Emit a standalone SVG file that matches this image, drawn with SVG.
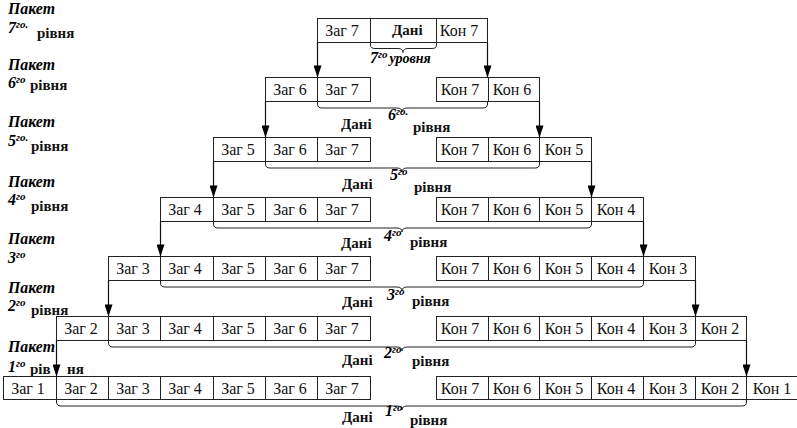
<svg xmlns="http://www.w3.org/2000/svg" width="797" height="428" viewBox="0 0 797 428">
<style>
.cell{fill:#fff;stroke:#222;stroke-width:1}
.div{stroke:#222;stroke-width:1}
.ct{font-family:"Liberation Serif",serif;font-size:16px;fill:#111;text-anchor:middle}
.bd{font-family:"Liberation Serif",serif;font-size:15px;font-weight:bold;fill:#111}
.bi{font-family:"Liberation Serif",serif;font-style:italic;font-weight:bold;fill:#000}
.sp{font-size:11px}
.arr{stroke:#111;stroke-width:1.2;fill:none;marker-end:url(#ah)}
.br{stroke:#222;stroke-width:1;fill:none}
</style>
<defs>
<marker id="ah" viewBox="0 0 12 8" refX="12" refY="4" markerWidth="13" markerHeight="8" markerUnits="userSpaceOnUse" orient="auto">
<path d="M0,0 L12,4 L0,8 z" fill="#000"/>
</marker>
</defs>

<!-- left labels -->
<g id="labels-left">
<text class="bi" x="8" y="14" font-size="16" textLength="47" lengthAdjust="spacingAndGlyphs">Пакет</text>
<text class="bi" x="8" y="33" font-size="16">7<tspan class="sp" dy="-5">го.</tspan></text>
<text class="bd" x="37" y="38" font-size="13">рівня</text>

<text class="bi" x="8" y="70" font-size="16" textLength="47" lengthAdjust="spacingAndGlyphs">Пакет</text>
<text class="bi" x="8" y="88" font-size="16">6<tspan class="sp" dy="-5">го</tspan></text>
<text class="bd" x="30" y="90">рівня</text>

<text class="bi" x="8" y="127" font-size="16" textLength="47" lengthAdjust="spacingAndGlyphs">Пакет</text>
<text class="bi" x="8" y="146" font-size="16">5<tspan class="sp" dy="-5">го.</tspan></text>
<text class="bd" x="31" y="151">рівня</text>

<text class="bi" x="8" y="187" font-size="16" textLength="47" lengthAdjust="spacingAndGlyphs">Пакет</text>
<text class="bi" x="8" y="205" font-size="16">4<tspan class="sp" dy="-5">го</tspan></text>
<text class="bd" x="31" y="211">рівня</text>

<text class="bi" x="8" y="244" font-size="16" textLength="47" lengthAdjust="spacingAndGlyphs">Пакет</text>
<text class="bi" x="8" y="263" font-size="16">3<tspan class="sp" dy="-5">го</tspan></text>

<text class="bi" x="8" y="293" font-size="16" textLength="47" lengthAdjust="spacingAndGlyphs">Пакет</text>
<text class="bi" x="8" y="311" font-size="16">2<tspan class="sp" dy="-5">го</tspan></text>
<text class="bd" x="31" y="315">рівня</text>

<text class="bi" x="8" y="352" font-size="16" textLength="47" lengthAdjust="spacingAndGlyphs">Пакет</text>
<text class="bi" x="8" y="372" font-size="16">1<tspan class="sp" dy="-5">го</tspan></text>
<text class="bd" x="30" y="374">рів</text>
<text class="bd" x="67" y="374">ня</text>
</g>

<!-- Row 7 -->
<g id="row7">
<rect class="cell" x="317.5" y="18.5" width="170" height="24"/>
<line class="div" x1="370.5" y1="18.5" x2="370.5" y2="42.5"/>
<line class="div" x1="436.5" y1="18.5" x2="436.5" y2="42.5"/>
<text class="ct" x="342" y="36">Заг 7</text>
<text class="bd" x="392" y="35">Дані</text>
<text class="ct" x="459" y="36">Кон 7</text>
</g>

<!-- Row 6 -->
<g id="row6">
<rect class="cell" x="265.5" y="77.5" width="105" height="24"/>
<line class="div" x1="317.5" y1="77.5" x2="317.5" y2="101.5"/>
<text class="ct" x="290" y="95">Заг 6</text>
<text class="ct" x="342" y="95">Заг 7</text>
<rect class="cell" x="436.5" y="77.5" width="103" height="24"/>
<line class="div" x1="488.5" y1="77.5" x2="488.5" y2="101.5"/>
<text class="ct" x="460" y="95">Кон 7</text>
<text class="ct" x="512" y="95">Кон 6</text>
</g>

<!-- Row 5 -->
<g id="row5">
<rect class="cell" x="213.5" y="137.5" width="157" height="24"/>
<line class="div" x1="265.5" y1="137.5" x2="265.5" y2="161.5"/>
<line class="div" x1="317.5" y1="137.5" x2="317.5" y2="161.5"/>
<text class="ct" x="238" y="155">Заг 5</text>
<text class="ct" x="290" y="155">Заг 6</text>
<text class="ct" x="342" y="155">Заг 7</text>
<rect class="cell" x="436.5" y="137.5" width="155" height="24"/>
<line class="div" x1="488.5" y1="137.5" x2="488.5" y2="161.5"/>
<line class="div" x1="539.5" y1="137.5" x2="539.5" y2="161.5"/>
<text class="ct" x="460" y="155">Кон 7</text>
<text class="ct" x="512" y="155">Кон 6</text>
<text class="ct" x="564" y="155">Кон 5</text>
</g>

<!-- Row 4 -->
<g id="row4">
<rect class="cell" x="160.5" y="197.5" width="210" height="24"/>
<line class="div" x1="213.5" y1="197.5" x2="213.5" y2="221.5"/>
<line class="div" x1="265.5" y1="197.5" x2="265.5" y2="221.5"/>
<line class="div" x1="317.5" y1="197.5" x2="317.5" y2="221.5"/>
<text class="ct" x="185" y="215">Заг 4</text>
<text class="ct" x="238" y="215">Заг 5</text>
<text class="ct" x="290" y="215">Заг 6</text>
<text class="ct" x="342" y="215">Заг 7</text>
<rect class="cell" x="436.5" y="197.5" width="207" height="24"/>
<line class="div" x1="488.5" y1="197.5" x2="488.5" y2="221.5"/>
<line class="div" x1="539.5" y1="197.5" x2="539.5" y2="221.5"/>
<line class="div" x1="591.5" y1="197.5" x2="591.5" y2="221.5"/>
<text class="ct" x="460" y="215">Кон 7</text>
<text class="ct" x="512" y="215">Кон 6</text>
<text class="ct" x="564" y="215">Кон 5</text>
<text class="ct" x="616" y="215">Кон 4</text>
</g>

<!-- Row 3 -->
<g id="row3">
<rect class="cell" x="108.5" y="256.5" width="262" height="24"/>
<line class="div" x1="160.5" y1="256.5" x2="160.5" y2="280.5"/>
<line class="div" x1="213.5" y1="256.5" x2="213.5" y2="280.5"/>
<line class="div" x1="265.5" y1="256.5" x2="265.5" y2="280.5"/>
<line class="div" x1="317.5" y1="256.5" x2="317.5" y2="280.5"/>
<text class="ct" x="133" y="274">Заг 3</text>
<text class="ct" x="185" y="274">Заг 4</text>
<text class="ct" x="238" y="274">Заг 5</text>
<text class="ct" x="290" y="274">Заг 6</text>
<text class="ct" x="342" y="274">Заг 7</text>
<rect class="cell" x="436.5" y="256.5" width="259" height="24"/>
<line class="div" x1="488.5" y1="256.5" x2="488.5" y2="280.5"/>
<line class="div" x1="539.5" y1="256.5" x2="539.5" y2="280.5"/>
<line class="div" x1="591.5" y1="256.5" x2="591.5" y2="280.5"/>
<line class="div" x1="643.5" y1="256.5" x2="643.5" y2="280.5"/>
<text class="ct" x="460" y="274">Кон 7</text>
<text class="ct" x="512" y="274">Кон 6</text>
<text class="ct" x="564" y="274">Кон 5</text>
<text class="ct" x="616" y="274">Кон 4</text>
<text class="ct" x="668" y="274">Кон 3</text>
</g>

<!-- Row 2 -->
<g id="row2">
<rect class="cell" x="56.5" y="316.5" width="314" height="24"/>
<line class="div" x1="108.5" y1="316.5" x2="108.5" y2="340.5"/>
<line class="div" x1="160.5" y1="316.5" x2="160.5" y2="340.5"/>
<line class="div" x1="213.5" y1="316.5" x2="213.5" y2="340.5"/>
<line class="div" x1="265.5" y1="316.5" x2="265.5" y2="340.5"/>
<line class="div" x1="317.5" y1="316.5" x2="317.5" y2="340.5"/>
<text class="ct" x="81" y="334">Заг 2</text>
<text class="ct" x="133" y="334">Заг 3</text>
<text class="ct" x="185" y="334">Заг 4</text>
<text class="ct" x="238" y="334">Заг 5</text>
<text class="ct" x="290" y="334">Заг 6</text>
<text class="ct" x="342" y="334">Заг 7</text>
<rect class="cell" x="436.5" y="316.5" width="310" height="24"/>
<line class="div" x1="488.5" y1="316.5" x2="488.5" y2="340.5"/>
<line class="div" x1="539.5" y1="316.5" x2="539.5" y2="340.5"/>
<line class="div" x1="591.5" y1="316.5" x2="591.5" y2="340.5"/>
<line class="div" x1="643.5" y1="316.5" x2="643.5" y2="340.5"/>
<line class="div" x1="695.5" y1="316.5" x2="695.5" y2="340.5"/>
<text class="ct" x="460" y="334">Кон 7</text>
<text class="ct" x="512" y="334">Кон 6</text>
<text class="ct" x="564" y="334">Кон 5</text>
<text class="ct" x="616" y="334">Кон 4</text>
<text class="ct" x="668" y="334">Кон 3</text>
<text class="ct" x="720" y="334">Кон 2</text>
</g>

<!-- Row 1 -->
<g id="row1">
<rect class="cell" x="3.5" y="376.5" width="367" height="23"/>
<line class="div" x1="56.5" y1="376.5" x2="56.5" y2="399.5"/>
<line class="div" x1="108.5" y1="376.5" x2="108.5" y2="399.5"/>
<line class="div" x1="160.5" y1="376.5" x2="160.5" y2="399.5"/>
<line class="div" x1="213.5" y1="376.5" x2="213.5" y2="399.5"/>
<line class="div" x1="265.5" y1="376.5" x2="265.5" y2="399.5"/>
<line class="div" x1="317.5" y1="376.5" x2="317.5" y2="399.5"/>
<text class="ct" x="28" y="393.5">Заг 1</text>
<text class="ct" x="81" y="393.5">Заг 2</text>
<text class="ct" x="133" y="393.5">Заг 3</text>
<text class="ct" x="185" y="393.5">Заг 4</text>
<text class="ct" x="238" y="393.5">Заг 5</text>
<text class="ct" x="290" y="393.5">Заг 6</text>
<text class="ct" x="342" y="393.5">Заг 7</text>
<rect class="cell" x="436.5" y="376.5" width="362" height="23"/>
<line class="div" x1="488.5" y1="376.5" x2="488.5" y2="399.5"/>
<line class="div" x1="539.5" y1="376.5" x2="539.5" y2="399.5"/>
<line class="div" x1="591.5" y1="376.5" x2="591.5" y2="399.5"/>
<line class="div" x1="643.5" y1="376.5" x2="643.5" y2="399.5"/>
<line class="div" x1="695.5" y1="376.5" x2="695.5" y2="399.5"/>
<line class="div" x1="746.5" y1="376.5" x2="746.5" y2="399.5"/>
<text class="ct" x="460" y="393.5">Кон 7</text>
<text class="ct" x="512" y="393.5">Кон 6</text>
<text class="ct" x="564" y="393.5">Кон 5</text>
<text class="ct" x="616" y="393.5">Кон 4</text>
<text class="ct" x="668" y="393.5">Кон 3</text>
<text class="ct" x="720" y="393.5">Кон 2</text>
<text class="ct" x="772" y="393.5">Кон 1</text>
</g>

<!-- connectors: arrows and braces -->
<g id="connectors">
<path class="arr" d="M317.5,42.5 V77.5"/>
<path class="arr" d="M487.5,42.5 V77.5"/>
<path class="arr" d="M265.5,101.5 V137.5"/>
<path class="arr" d="M539.5,101.5 V137.5"/>
<path class="arr" d="M213.5,161.5 V197.5"/>
<path class="arr" d="M591.5,161.5 V197.5"/>
<path class="arr" d="M160.5,221.5 V256.5"/>
<path class="arr" d="M643.5,221.5 V256.5"/>
<path class="arr" d="M108.5,280.5 V316.5"/>
<path class="arr" d="M695.5,280.5 V316.5"/>
<path class="arr" d="M56.5,340.5 V376.5"/>
<path class="arr" d="M746.5,340.5 V376.5"/>

<path class="br" d="M370.5,42.5 V45 Q370.5,48.5 375,48.5 H398 Q403,48.5 403,52.5 Q403,48.5 408,48.5 H432 Q436.5,48.5 436.5,45 V42.5"/>
<path class="br" d="M317.5,101.5 V104 Q317.5,108 322,108 H397 Q402,108 402,112 Q402,108 407,108 H483 Q487.5,108 487.5,104 V101.5"/>
<path class="br" d="M265.5,161.5 V164 Q265.5,168 270,168 H397 Q402,168 402,172 Q402,168 407,168 H535 Q539.5,168 539.5,164 V161.5"/>
<path class="br" d="M213.5,221.5 V224 Q213.5,228 218,228 H397 Q402,228 402,232 Q402,228 407,228 H587 Q591.5,228 591.5,224 V221.5"/>
<path class="br" d="M160.5,280.5 V283 Q160.5,287 165,287 H397 Q402,287 402,291 Q402,287 407,287 H639 Q643.5,287 643.5,283 V280.5"/>
<path class="br" d="M108.5,340.5 V343 Q108.5,347 113,347 H397 Q402,347 402,351 Q402,347 407,347 H691 Q695.5,347 695.5,343 V340.5"/>
<path class="br" d="M56.5,399.5 V402 Q56.5,406 61,406 H397 Q402,406 402,410 Q402,406 407,406 H742 Q746.5,406 746.5,402 V399.5"/>
</g>

<!-- brace labels -->
<g id="brace-labels">
<text class="bi" x="370" y="63" font-size="16">7<tspan class="sp" dy="-5">го</tspan><tspan font-size="14" dy="5" dx="2">уровня</tspan></text>

<text class="bd" x="341" y="128.5">Дані</text>
<text class="bi" x="388" y="120" font-size="16">6<tspan class="sp" dy="-5">го.</tspan></text>
<text class="bd" x="413" y="132">рівня</text>

<text class="bd" x="342" y="188.5">Дані</text>
<text class="bi" x="390" y="180" font-size="16">5<tspan class="sp" dy="-5">го</tspan></text>
<text class="bd" x="414" y="192">рівня</text>

<text class="bd" x="341" y="248">Дані</text>
<text class="bi" x="384" y="241" font-size="16">4<tspan class="sp" dy="-5">го</tspan></text>
<text class="bd" x="410" y="247">рівня</text>

<text class="bd" x="342" y="307">Дані</text>
<text class="bi" x="387" y="300" font-size="16">3<tspan class="sp" dy="-5">го</tspan></text>
<text class="bd" x="412" y="306">рівня</text>

<text class="bd" x="342" y="365">Дані</text>
<text class="bi" x="384" y="358" font-size="16">2<tspan class="sp" dy="-5">го</tspan></text>
<text class="bd" x="412" y="366">рівня</text>

<text class="bd" x="342" y="422">Дані</text>
<text class="bi" x="385" y="416" font-size="16">1<tspan class="sp" dy="-5">го</tspan></text>
<text class="bd" x="410" y="425">рівня</text>
</g>
</svg>
